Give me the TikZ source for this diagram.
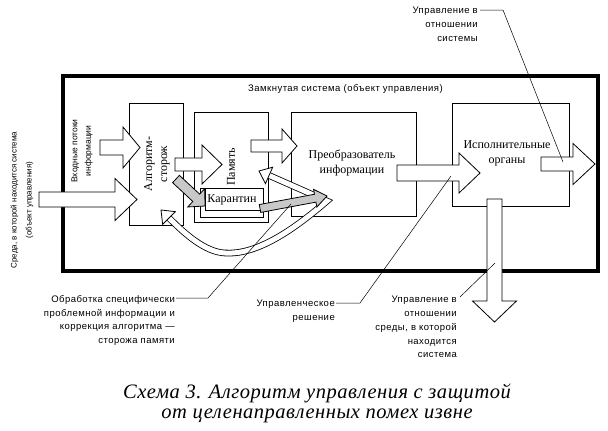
\documentclass[tikz,border=0pt]{standalone}
\usepackage{fontspec}
\setmainfont{Liberation Serif}
\newfontfamily\labfont[LetterSpace=5]{Liberation Sans}
\newfontfamily\labfontr{Liberation Sans}
\newfontfamily\capfont[LetterSpace=2.5]{Liberation Serif}
\usetikzlibrary{calc}
\definecolor{grayA}{RGB}{200,200,200}
\tikzset{
  box/.style={draw, line width=0.8pt, fill=white, inner sep=0pt, outer sep=0pt, anchor=north west},
  lbl/.style={font=\labfont\fontsize{9.5}{13.8}\selectfont, inner sep=0pt},
  ser/.style={font=\fontsize{12}{15}\selectfont, inner sep=0pt, align=center},
  leader/.style={line width=0.5pt},
  band/.style={double=white, double distance=5pt, line width=0.8pt, line join=miter},
}
\newcommand{\blkarrow}[6][white]{%
  \coordinate (ba-s) at #2;
  \coordinate (ba-t) at #3;
  \coordinate (ba-h) at ($(ba-t)!#6!(ba-s)$);
  \filldraw[fill=#1, draw=black, line width=0.8pt, line join=miter]
    ($(ba-s)!#4!90:(ba-t)$) -- ($(ba-h)!#4!90:(ba-t)$) -- ($(ba-h)!#5!90:(ba-t)$) -- (ba-t)
    -- ($(ba-h)!#5!-90:(ba-t)$) -- ($(ba-h)!#4!-90:(ba-t)$) -- ($(ba-s)!#4!-90:(ba-t)$) -- cycle;
}
\begin{document}
\begin{tikzpicture}[x=1pt,y=-1pt]
\useasboundingbox (0,0) rectangle (608,431);
% outer frame
\draw[line width=3.2pt] (63,76) rectangle (598,271);
\node[lbl, anchor=west] (ttl) at (248,89) {Замкнутая система (объект управления)};
% boxes
\node[box, minimum width=54pt, minimum height=122pt] (alg) at (129,103) {};
\node[box, minimum width=74pt, minimum height=110pt] (mem) at (194,112) {};
\node[box, minimum width=63pt, minimum height=29pt] (qfr) at (200,188) {};
\node[box, minimum width=58pt, minimum height=22pt] (qua) at (205,188) {};
\node[box, minimum width=125pt, minimum height=104pt] (conv) at (291,112) {};
\node[box, minimum width=117pt, minimum height=103pt] (exe) at (452,103) {};
% box texts
\node[ser, rotate=90] (algt) at (157,164) {Алгоритм-\\сторож};
\node[ser, rotate=90] (memt) at (231,167) {Память};
\node[ser] (quat) at (232,200) {Карантин};
\node[ser] (convt) at (352,163) {Преобразователь\\информации};
\node[ser] (exet) at (507,153) {Исполнительные\\органы};
% side texts
\node[inner sep=0pt, rotate=90, align=center, font=\labfontr\fontsize{8}{15}\selectfont] (env) at (22,200) {Среда, в которой находится система\\(объект управления)};
\node[inner sep=0pt, rotate=90, align=center, font=\labfontr\fontsize{8.5}{13.5}\selectfont] (inp) at (82,151) {Входные потоки\\информации};
% block arrows
\blkarrow{(100,147.5)}{(140,147.5)}{7.5pt}{20.5pt}{17pt}
\blkarrow{(39,199.5)}{(137,199.5)}{7.5pt}{21pt}{22pt}
\blkarrow{(175,164.5)}{(222,164.5)}{6.5pt}{19.5pt}{20pt}
\blkarrow{(251,146)}{(297,146)}{6pt}{17pt}{15pt}
\blkarrow{(397,173)}{(480,173)}{8pt}{20pt}{21pt}
\blkarrow{(541,164)}{(595,164)}{7pt}{20.5pt}{22pt}
\blkarrow{(494.5,199)}{(494.5,322)}{7.5pt}{22pt}{21pt}
% feedback band
\coordinate (vpt) at (327,201);
\coordinate (t1) at (259,171);
\coordinate (b1) at ($(t1)!11pt!(vpt)$);
\coordinate (t2) at (161,210);
\coordinate (b2) at (169,218);
\draw[band] (b1) -- (vpt) .. controls (290,233) and (255,255) .. (225,253) .. controls (205,252) and (185,234) .. (b2);
\filldraw[fill=white, line width=0.8pt] (t1) -- ($(b1)!9pt!90:(t1)$) -- ($(b1)!9pt!-90:(t1)$) -- cycle;
\filldraw[fill=white, line width=0.8pt] (t2) -- ($(b2)!9pt!90:(t2)$) -- ($(b2)!9pt!-90:(t2)$) -- cycle;
% gray arrows
\blkarrow[grayA]{(176,179)}{(205,206)}{5pt}{12.5pt}{12pt}
\blkarrow[grayA]{(260,208.5)}{(327,196)}{4pt}{9pt}{12pt}
% labels
\node[lbl, align=right, anchor=east] (lsys) at (478,24) {Управление в\\отношении\\системы};
\node[lbl, align=right, anchor=east] (lobr) at (175,320.5) {Обработка специфически\\проблемной информации и\\коррекция алгоритма —\\сторожа памяти};
\node[lbl, align=right, anchor=east] (lupr) at (335,311.5) {Управленческое\\решение};
\node[lbl, align=right, anchor=east] (lsred) at (457,327) {Управление в\\отношении\\среды, в которой\\находится\\система};
% leaders
\coordinate (e1) at (563,162);
\coordinate (e2) at (291,204);
\coordinate (e3) at (451,176);
\coordinate (e4) at (495,263);
\draw[leader] (480,10) -- (503,10) -- (e1);
\draw[leader] (176,298) -- (208,298) -- (e2);
\draw[leader] (336,303) -- (360,303) -- (e3);
\draw[leader] (460,297) -- (e4);
% caption
\node[font=\capfont\itshape\fontsize{20.5}{20}\selectfont, align=center, inner sep=0pt] (cap) at (317,403) {Схема 3. Алгоритм управления с защитой\\от целенаправленных помех извне};
\end{tikzpicture}
\end{document}
